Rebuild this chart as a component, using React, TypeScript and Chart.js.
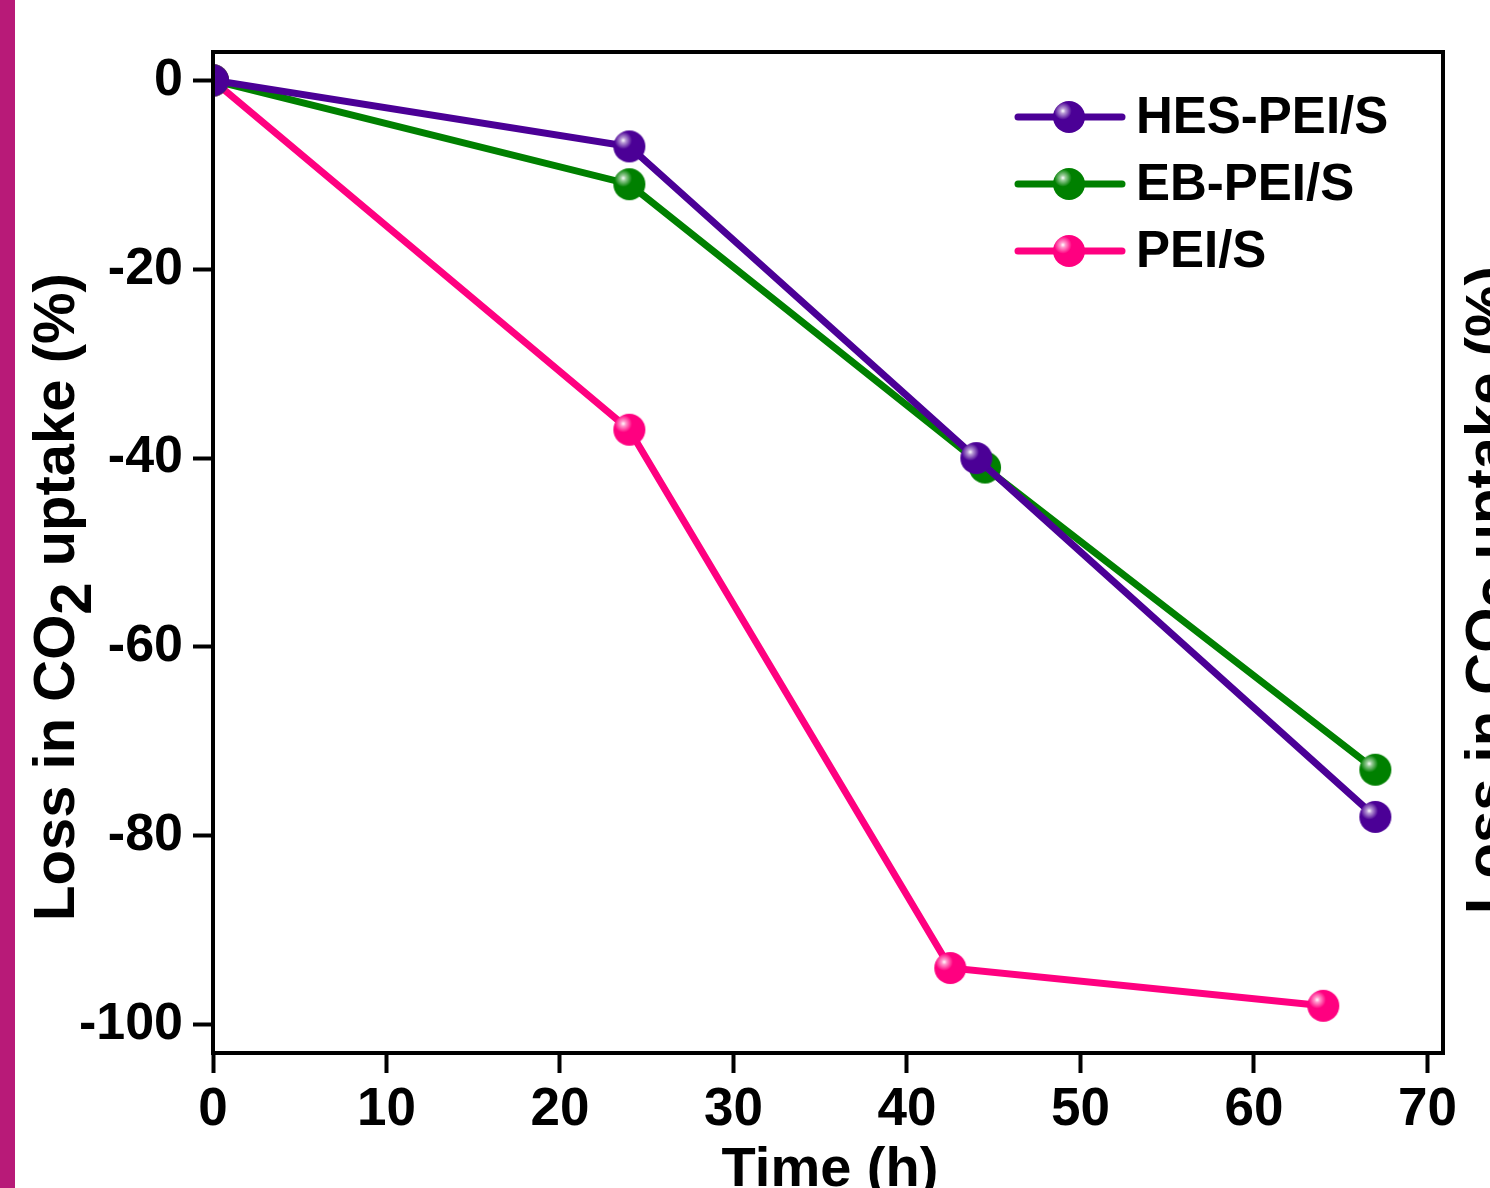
import React, { useEffect, useRef } from "react";
import { Chart, registerables } from "chart.js";

Chart.register(...registerables);

// ---- data ----
const seriesNames = ["HES-PEI/S", "EB-PEI/S", "PEI/S"];
const seriesColors = ["#4B0096", "#008000", "#FF0080"];
const hesX = [0, 24, 44, 67];
const hesY = [0, -7, -40, -78];
const ebX = [0, 24, 44.5, 67];
const ebY = [0, -11, -41, -73];
const peiX = [0, 24, 42.5, 64];
const peiY = [0, -37, -94, -98];
const xTickValues = [0, 10, 20, 30, 40, 50, 60, 70];
const yTickValues = [0, -20, -40, -60, -80, -100];
const xTitle = "Time (h)";
const yTitleMain = "Loss in CO";
const yTitleSub = "2";
const yTitleEnd = " uptake (%)";

const FONT = "'Liberation Sans', Arial, sans-serif";

function makeBall(color: string, r: number): HTMLCanvasElement {
  const c = document.createElement("canvas");
  const s = r * 2 + 2;
  c.width = s;
  c.height = s;
  const g = c.getContext("2d")!;
  const cx = s / 2;
  const cy = s / 2;
  g.beginPath();
  g.arc(cx, cy, r, 0, Math.PI * 2);
  g.fillStyle = color;
  g.fill();
  const hx = cx - r * 0.38;
  const hy = cy - r * 0.38;
  const grad = g.createRadialGradient(hx, hy, 0, hx, hy, r * 0.55);
  grad.addColorStop(0, "rgba(255,255,255,1)");
  grad.addColorStop(0.3, "rgba(255,255,255,0.6)");
  grad.addColorStop(1, "rgba(255,255,255,0)");
  g.beginPath();
  g.arc(cx, cy, r, 0, Math.PI * 2);
  g.fillStyle = grad;
  g.fill();
  return c;
}

function drawYTitle(ctx: CanvasRenderingContext2D, x: number, cy: number) {
  ctx.save();
  ctx.translate(x, cy);
  ctx.rotate(-Math.PI / 2);
  ctx.font = `bold 58px ${FONT}`;
  ctx.fillStyle = "#000";
  ctx.textBaseline = "alphabetic";
  ctx.textAlign = "left";
  const w1 = ctx.measureText(yTitleMain).width;
  const w2 = ctx.measureText(yTitleSub).width;
  const w3 = ctx.measureText(yTitleEnd).width;
  const total = w1 + w2 + w3;
  let px = -total / 2;
  ctx.fillText(yTitleMain, px, 0);
  px += w1;
  ctx.fillText(yTitleSub, px, 17);
  px += w2;
  ctx.fillText(yTitleEnd, px, 0);
  ctx.restore();
}

export default function App() {
  const ref = useRef<HTMLCanvasElement | null>(null);

  useEffect(() => {
    const canvas = ref.current;
    if (!canvas) return;
    const balls = seriesColors.map((c) => makeBall(c, 16));
    const xs = [hesX, ebX, peiX];
    const ys = [hesY, ebY, peiY];

    const decor = {
      id: "decor",
      beforeDraw(chart: any) {
        const ctx = chart.ctx;
        ctx.save();
        ctx.fillStyle = "#ffffff";
        ctx.fillRect(0, 0, chart.width, chart.height);
        ctx.fillStyle = "#B81A78";
        ctx.fillRect(0, 0, 15, chart.height);
        ctx.restore();
      },
      afterDraw(chart: any) {
        const ctx = chart.ctx;
        const a = chart.chartArea;
        ctx.save();
        ctx.strokeStyle = "#000";
        ctx.lineWidth = 4;
        ctx.strokeRect(a.left, a.top, a.right - a.left, a.bottom - a.top);
        ctx.restore();

        // y titles (left and cropped right copy)
        drawYTitle(ctx, 74, 597);
        drawYTitle(ctx, 1506, 590);

        // x title
        ctx.save();
        ctx.fillStyle = "#000";
        ctx.font = `bold 56px ${FONT}`;
        ctx.textAlign = "center";
        ctx.textBaseline = "alphabetic";
        ctx.fillText(xTitle, (a.left + a.right) / 2 + 2, 1186);
        ctx.restore();

        // legend
        ctx.save();
        const rows = [117, 184, 251];
        seriesNames.forEach((name, i) => {
          const y = rows[i];
          ctx.strokeStyle = seriesColors[i];
          ctx.lineWidth = 7;
          ctx.lineCap = "round";
          ctx.beginPath();
          ctx.moveTo(1018, y);
          ctx.lineTo(1122, y);
          ctx.stroke();
          const b = balls[i];
          ctx.drawImage(b, 1069 - b.width / 2, y - b.height / 2);
          ctx.fillStyle = "#000";
          ctx.font = `bold 51px ${FONT}`;
          ctx.textBaseline = "middle";
          ctx.textAlign = "left";
          ctx.fillText(name, 1136, y + 2);
        });
        ctx.restore();
      },
    };

    const chart = new Chart(canvas, {
      type: "line",
      data: {
        datasets: seriesNames.map((name, i) => ({
          label: name,
          data: xs[i].map((x, j) => ({ x, y: ys[i][j] })),
          borderColor: seriesColors[i],
          backgroundColor: seriesColors[i],
          borderWidth: 7,
          pointStyle: balls[i] as any,
          pointRadius: 16,
          fill: false,
          tension: 0,
        })),
      },
      options: {
        responsive: false,
        animation: false,
        layout: { padding: { top: 52, right: 47, left: 0, bottom: 0 } },
        plugins: {
          legend: { display: false },
          tooltip: { enabled: false },
        },
        scales: {
          x: {
            type: "linear",
            min: 0,
            max: 70.9,
            afterBuildTicks: (s: any) => {
              s.ticks = xTickValues.map((v) => ({ value: v }));
            },
            afterFit: (s: any) => {
              s.height = 135;
            },
            ticks: {
              color: "#000",
              font: { family: FONT, weight: "bold", size: 53 },
              padding: 6,
              maxRotation: 0,
              autoSkip: false,
            },
            grid: {
              drawOnChartArea: false,
              drawTicks: true,
              tickLength: 20,
              tickWidth: 4,
              tickColor: "#000",
            },
            border: { display: false },
          },
          y: {
            type: "linear",
            min: -103,
            max: 3,
            afterBuildTicks: (s: any) => {
              s.ticks = yTickValues.map((v) => ({ value: v }));
            },
            afterFit: (s: any) => {
              s.width = 213;
            },
            ticks: {
              color: "#000",
              font: { family: FONT, weight: "bold", size: 52 },
              padding: 10,
              autoSkip: false,
            },
            grid: {
              drawOnChartArea: false,
              drawTicks: true,
              tickLength: 20,
              tickWidth: 4,
              tickColor: "#000",
            },
            border: { display: false },
          },
        },
      },
      plugins: [decor],
    });
    return () => chart.destroy();
  }, []);

  return (
    <div style={{ position: "absolute", left: 0, top: 0, width: 1490, height: 1188, overflow: "hidden", background: "#fff" }}>
      <canvas ref={ref} width={1490} height={1188} style={{ display: "block", width: 1490, height: 1188 }} />
    </div>
  );
}
